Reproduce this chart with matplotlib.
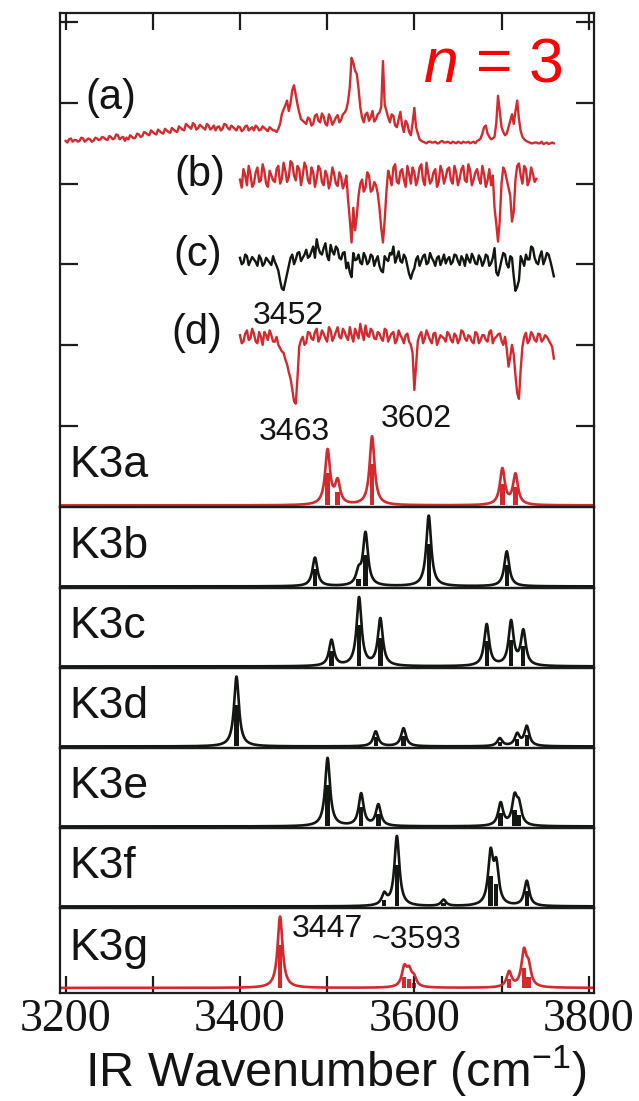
import numpy as np
import matplotlib
matplotlib.use("Agg")
import matplotlib.pyplot as plt

plt.rcParams['font.family'] = ['Liberation Sans', 'DejaVu Sans']
plt.rcParams['mathtext.fontset'] = 'custom'
plt.rcParams['mathtext.rm'] = 'Liberation Sans'
plt.rcParams['mathtext.it'] = 'Liberation Sans:italic'

# ---------------- data ----------------
xticks = [3200, 3300, 3400, 3500, 3600, 3700, 3800]
xtick_labels = ['3200', '', '3400', '', '3600', '', '3800']

# experimental traces: values on a 4 cm-1 grid (y) plus the in-between points (mid)
a_start = 3200
a_y = [3.53, 3.55, 3.52, 3.54, 3.53, 3.56, 3.54, 3.55, 3.53, 3.56,
       3.55, 3.57, 3.54, 3.58, 3.56, 3.60, 3.57, 3.53, 3.55, 3.58,
       3.57, 3.61, 3.59, 3.63, 3.60, 3.64, 3.61, 3.65, 3.62, 3.66,
       3.63, 3.67, 3.64, 3.69, 3.66, 3.72, 3.68, 3.73, 3.69, 3.71,
       3.67, 3.72, 3.69, 3.66, 3.71, 3.68, 3.73, 3.67, 3.70, 3.66,
       3.70, 3.67, 3.72, 3.68, 3.66, 3.70, 3.67, 3.69, 3.65, 3.68,
       3.66, 3.68, 3.86, 3.97, 3.90, 4.16, 4.10, 3.88, 3.78, 3.74,
       3.80, 3.74, 3.86, 3.76, 3.83, 3.72, 3.81, 3.77, 3.85, 3.79,
       3.88, 4.02, 4.56, 4.40, 4.18, 3.82, 3.86, 3.78, 3.90, 3.80,
       3.88, 4.52, 3.90, 3.76, 3.84, 3.70, 3.89, 3.64, 3.74, 3.60,
       3.94, 3.62, 3.53, 3.51, 3.52, 3.51, 3.52, 3.50, 3.53, 3.51,
       3.51, 3.52, 3.50, 3.51, 3.52, 3.51, 3.50, 3.52, 3.53, 3.56,
       3.70, 3.62, 3.55, 3.58, 4.09, 3.70, 3.60, 3.70, 3.86, 3.90,
       3.80, 3.58, 3.53, 3.51, 3.50, 3.51, 3.50, 3.49, 3.51, 3.50,
       3.50]
a_mid = [3.51, 3.56, 3.54, 3.52, 3.57, 3.52, 3.56, 3.52, 3.57, 3.54,
         3.58, 3.55, 3.59, 3.55, 3.61, 3.55, 3.58, 3.57, 3.60, 3.56,
         3.62, 3.58, 3.64, 3.61, 3.66, 3.62, 3.67, 3.63, 3.68, 3.64,
         3.69, 3.65, 3.71, 3.67, 3.74, 3.70, 3.75, 3.67, 3.73, 3.69,
         3.74, 3.67, 3.72, 3.70, 3.66, 3.74, 3.69, 3.72, 3.68, 3.71,
         3.65, 3.71, 3.66, 3.70, 3.72, 3.66, 3.71, 3.67, 3.70, 3.66,
         3.64, 3.74, 3.92, 4.03, 4.00, 4.22, 3.98, 3.80, 3.76, 3.82,
         3.72, 3.84, 3.78, 3.87, 3.74, 3.86, 3.73, 3.82, 3.76, 3.86,
         3.92, 4.20, 4.50, 4.36, 3.95, 3.76, 3.88, 3.82, 3.77, 3.86,
         3.95, 3.98, 3.82, 3.86, 3.72, 3.80, 3.72, 3.78, 3.64, 3.75,
         3.70, 3.55, 3.52, 3.50, 3.52, 3.51, 3.50, 3.52, 3.51, 3.52,
         3.50, 3.51, 3.52, 3.50, 3.51, 3.52, 3.51, 3.50, 3.54, 3.62,
         3.72, 3.58, 3.56, 3.75, 3.90, 3.64, 3.62, 3.78, 3.74, 4.03,
         3.65, 3.55, 3.52, 3.50, 3.51, 3.50, 3.52, 3.50, 3.49, 3.51]

b_start = 3400
b_y = [3.05, 3.18, 2.98, 3.12, 3.00, 3.20, 3.04, 3.15, 2.96, 3.10,
       3.02, 3.22, 3.06, 3.16, 3.08, 3.25, 3.04, 3.18, 3.10, 3.20,
       3.00, 3.14, 3.06, 3.18, 2.98, 3.10, 3.03, 3.12, 2.97, 3.08,
       3.00, 2.80, 2.27, 2.42, 2.85, 3.05, 2.95, 3.10, 2.92, 2.98,
       2.70, 2.27, 2.90, 3.08, 3.20, 3.02, 3.15, 3.05, 3.22, 3.00,
       3.14, 3.06, 3.24, 2.98, 3.12, 3.04, 3.18, 3.02, 3.15, 3.08,
       3.20, 3.00, 3.14, 3.06, 3.22, 3.02, 3.16, 3.05, 3.18, 3.00,
       3.12, 3.04, 2.98, 2.70, 2.28, 3.00, 3.15, 2.95, 2.53, 3.05,
       3.25, 3.00, 3.18, 3.04, 3.12, 3.06]
b_mid = [2.95, 3.10, 3.22, 2.96, 3.14, 3.02, 3.24, 3.00, 3.16, 3.04,
         3.18, 3.00, 3.26, 3.02, 3.28, 3.10, 3.22, 2.98, 3.26, 3.04,
         3.20, 2.96, 3.22, 3.02, 3.16, 2.94, 3.20, 3.00, 3.14, 2.94,
         3.10, 2.55, 2.70, 2.60, 3.00, 2.90, 3.14, 2.90, 3.02, 2.88,
         2.45, 2.55, 3.16, 2.98, 3.24, 3.00, 3.18, 2.96, 3.12, 3.20,
         2.98, 3.20, 3.04, 3.26, 3.00, 3.14, 2.96, 3.22, 3.00, 3.18,
         3.04, 3.22, 2.98, 3.18, 3.04, 3.24, 2.98, 3.14, 3.06, 3.22,
         2.96, 3.18, 3.10, 2.50, 2.55, 3.20, 3.05, 2.85, 2.65, 3.22,
         3.10, 3.22, 2.98, 3.20, 3.02]

c_start = 3400
c_y = [2.08, 2.02, 2.10, 2.04, 2.06, 1.98, 2.07, 2.01, 2.05, 1.99,
       2.03, 1.92, 1.70, 1.78, 1.98, 2.12, 2.06, 2.15, 2.08, 2.18,
       2.10, 2.22, 2.31, 2.14, 2.20, 2.10, 2.24, 2.12, 2.19, 2.06,
       2.15, 2.02, 1.84, 2.05, 2.12, 2.00, 2.09, 2.03, 2.10, 2.05,
       1.98, 1.90, 2.06, 2.14, 2.22, 2.08, 2.04, 2.12, 1.98, 1.82,
       1.95, 2.10, 2.04, 2.12, 2.02, 2.08, 1.98, 2.10, 2.05, 2.01,
       2.09, 2.03, 2.11, 1.99, 2.06, 2.12, 2.02, 2.08, 2.00, 2.07,
       2.03, 2.10, 2.01, 2.20, 1.86, 2.05, 2.12, 1.96, 2.08, 1.67,
       1.80, 2.04, 2.12, 2.06, 2.20, 2.02, 2.10, 2.00, 2.14, 2.04,
       1.85]
c_mid = [2.00, 2.12, 1.99, 2.09, 2.03, 2.11, 1.98, 2.08, 2.02, 2.10,
         1.98, 1.80, 1.68, 1.88, 2.08, 2.00, 2.14, 2.04, 2.12, 2.08,
         2.16, 2.08, 2.20, 2.12, 2.26, 2.05, 2.16, 2.22, 2.08, 2.14,
         1.95, 1.90, 2.14, 2.06, 2.02, 2.14, 2.00, 2.12, 1.98, 2.10,
         1.92, 2.10, 2.04, 2.12, 2.02, 2.16, 2.02, 2.08, 1.88, 1.90,
         2.06, 1.98, 2.10, 2.00, 2.14, 2.04, 2.08, 1.99, 2.12, 2.06,
         2.00, 2.12, 2.04, 2.10, 1.98, 2.06, 2.13, 2.01, 2.11, 1.98,
         2.12, 1.98, 2.08, 1.90, 1.95, 2.14, 2.00, 2.10, 1.85, 1.72,
         2.10, 1.98, 2.06, 2.22, 2.08, 2.00, 2.16, 2.06, 2.12, 1.95]

d_start = 3400
d_y = [1.12, 1.04, 1.18, 1.08, 1.14, 1.02, 1.10, 1.16, 1.06, 1.12,
       1.04, 1.00, 0.92, 0.82, 0.66, 0.45, 0.27, 0.98, 1.10, 1.03,
       1.15, 1.06, 1.20, 1.09, 1.14, 1.04, 1.18, 1.10, 1.22, 1.08,
       1.16, 1.06, 1.12, 1.20, 1.08, 1.15, 1.24, 1.10, 1.17, 1.07,
       1.14, 1.05, 1.18, 1.10, 1.16, 1.06, 1.12, 1.02, 1.14, 1.00,
       0.44, 1.05, 1.16, 1.08, 1.12, 1.02, 1.15, 1.06, 1.10, 1.04,
       1.13, 1.03, 1.11, 1.07, 1.16, 1.05, 1.10, 1.02, 1.14, 1.06,
       1.12, 1.04, 1.18, 1.08, 1.13, 1.05, 1.10, 0.73, 1.00, 0.62,
       0.33, 0.98, 1.15, 1.06, 1.12, 1.04, 1.13, 1.07, 1.10, 1.02,
       0.83]
d_mid = [1.02, 1.14, 1.06, 1.20, 1.04, 1.16, 1.00, 1.12, 1.18, 1.04,
         1.10, 0.96, 0.90, 0.76, 0.58, 0.30, 0.60, 1.06, 1.00, 1.16,
         1.08, 1.16, 1.04, 1.18, 1.08, 1.22, 1.05, 1.16, 1.10, 1.20,
         1.10, 1.22, 1.04, 1.14, 1.26, 1.06, 1.12, 1.20, 1.08, 1.16,
         1.08, 1.20, 1.04, 1.14, 1.02, 1.18, 1.08, 1.12, 1.04, 0.90,
         0.75, 1.12, 1.02, 1.18, 1.06, 1.14, 1.00, 1.12, 1.08, 1.16,
         1.06, 1.14, 1.02, 1.18, 1.08, 1.12, 1.04, 1.16, 1.02, 1.12,
         1.06, 1.16, 1.02, 1.10, 1.14, 1.00, 0.95, 0.85, 0.88, 0.40,
         0.70, 1.10, 1.02, 1.16, 1.06, 1.14, 1.04, 1.12, 1.06, 0.98]

# calculated spectra: positions (cm-1) and intensities (relative panel height)
calc_names = ['K3a', 'K3b', 'K3c', 'K3d', 'K3e', 'K3f', 'K3g']
K3a_pos = [3500.5, 3512, 3551.5, 3701, 3716]
K3a_int = [0.68, 0.28, 0.86, 0.45, 0.38]
K3b_pos = [3486, 3536, 3544, 3616.5, 3706]
K3b_int = [0.36, 0.16, 0.66, 0.89, 0.44]
K3c_pos = [3505, 3536.6, 3561, 3683, 3711, 3725]
K3c_int = [0.33, 0.87, 0.60, 0.53, 0.56, 0.44]
K3d_pos = [3396, 3555.7, 3587.6, 3698, 3718, 3729]
K3d_int = [0.89, 0.19, 0.23, 0.10, 0.15, 0.25]
K3e_pos = [3500.5, 3539, 3558.7, 3699, 3715, 3720]
K3e_int = [0.87, 0.41, 0.27, 0.29, 0.34, 0.24]
K3f_pos = [3565.5, 3580, 3633.5, 3687.5, 3694, 3729]
K3f_int = [0.14, 0.89, 0.08, 0.64, 0.48, 0.32]
K3g_pos = [3446, 3588.5, 3594, 3599.5, 3708.7, 3725.7, 3731]
K3g_int = [0.84, 0.22, 0.17, 0.10, 0.18, 0.40, 0.22]

calc_pos = [K3a_pos, K3b_pos, K3c_pos, K3d_pos, K3e_pos, K3f_pos, K3g_pos]
calc_int = [K3a_int, K3b_int, K3c_int, K3d_int, K3e_int, K3f_int, K3g_int]

# ---------------- style ----------------
RED = '#d42a2e'
BLK = '#121712'
SPINE = '#1c1c1c'
TXT = '#141414'
HWHM = 3.4
STICK_FRAC = 0.6
XLIM = (3193, 3805.5)

W, H = 639, 1101
fig = plt.figure(figsize=(W / 100, H / 100), dpi=100)

x_left, x_right = 59.5, 593.5
top_y0, top_y1 = 12.7, 425.5
edges = [425.5, 507, 588, 668, 748, 828, 908, 993]


def add_ax(py_top, py_bot):
    return fig.add_axes([x_left / W, 1 - py_bot / H,
                         (x_right - x_left) / W, (py_bot - py_top) / H])


def style_spines(ax):
    for s in ax.spines.values():
        s.set_linewidth(1.6)
        s.set_color(SPINE)


def interleave(y, mid):
    out = []
    for k in range(len(mid)):
        out.append(y[k])
        out.append(mid[k])
    out.append(y[-1])
    return out


# ---------------- top panel (experiment) ----------------
axt = add_ax(top_y0, top_y1)
style_spines(axt)
axt.spines['bottom'].set_visible(False)
axt.set_xlim(*XLIM)
axt.set_ylim(0, 5.12)

for y, mid, x0, col in [(a_y, a_mid, a_start, RED), (b_y, b_mid, b_start, RED),
                        (c_y, c_mid, c_start, BLK), (d_y, d_mid, d_start, RED)]:
    ys = interleave(y, mid)
    xs = x0 + 2 * np.arange(len(ys))
    axt.plot(xs, ys, color=col, lw=1.7)

axt.set_xticks(xticks)
axt.set_yticks([0, 1, 2, 3, 4, 5])
axt.tick_params(axis='x', which='both', direction='in', top=True, bottom=False,
                labeltop=False, labelbottom=False, length=12, width=1.6, color=SPINE)
axt.tick_params(axis='y', which='both', direction='in', left=True, right=True,
                labelleft=False, labelright=False, length=13, width=1.6, color=SPINE)

lab_kw = dict(fontsize=30, ha='center', va='center', color=TXT)
axt.text(3251.6, 4.06, '(a)', **lab_kw)
axt.text(3353.7, 3.11, '(b)', **lab_kw)
axt.text(3352, 2.12, '(c)', **lab_kw)
axt.text(3351, 1.15, '(d)', **lab_kw)

num_kw = dict(fontsize=23, ha='center', va='baseline', color=TXT, clip_on=False)
axt.text(3455, 1.26, '3452', **num_kw)
axt.text(3462, -0.18, '3463', zorder=10, **num_kw)
axt.text(3602.5, -0.015, '3602', zorder=10, **num_kw)

axt.text(3771, 4.27, r'$n$ = 3', fontsize=45, ha='right', va='baseline', color='#ff0000')

# ---------------- calculated panels ----------------
xgrid = np.linspace(XLIM[0], XLIM[1], 4000)
for i, name in enumerate(calc_names):
    ax = add_ax(edges[i], edges[i + 1])
    style_spines(ax)
    ax.patch.set_visible(False)
    if i == 0:
        ax.spines['top'].set_visible(False)
    col = RED if name in ('K3a', 'K3g') else BLK
    pos = np.array(calc_pos[i])
    amp = np.array(calc_int[i])
    curve = np.zeros_like(xgrid)
    for p, a in zip(pos, amp):
        curve += a / (1 + ((xgrid - p) / HWHM) ** 2)
    ax.bar(pos, amp * STICK_FRAC, width=5.0, color=col, linewidth=0)
    ax.plot(xgrid, curve, color=col, lw=1.9)
    ax.set_xlim(*XLIM)
    last = (i == len(calc_names) - 1)
    if last:
        ax.set_ylim(-0.06, 0.94)
        ax.set_xticks(xticks)
        ax.set_xticklabels(xtick_labels, fontfamily='Liberation Serif', fontsize=33)
        ax.tick_params(axis='x', direction='in', length=12, width=1.6, color=SPINE,
                       pad=4, labelcolor=TXT)
        ax.set_yticks([])
        ax.text(0.019, 0.39, name, transform=ax.transAxes, fontsize=32,
                ha='left', va='baseline', color=TXT)
        ax.text(3500.5, 0.60, '3447', fontsize=23, ha='center', va='baseline', color=TXT)
        ax.text(3602.5, 0.47, '~3593', fontsize=23, ha='center', va='baseline', color=TXT)
    else:
        ax.set_ylim(-0.02, 1.0)
        ax.set_xticks([])
        ax.set_yticks([])
        ax.text(0.019, 0.37, name, transform=ax.transAxes, fontsize=32,
                ha='left', va='baseline', color=TXT)

fig.text(336 / W, 1 - 1087 / H, r'IR Wavenumber (cm$^{-1}$)', fontsize=35,
         ha='center', va='baseline', color=TXT)

fig.savefig('out.png', dpi=100)
